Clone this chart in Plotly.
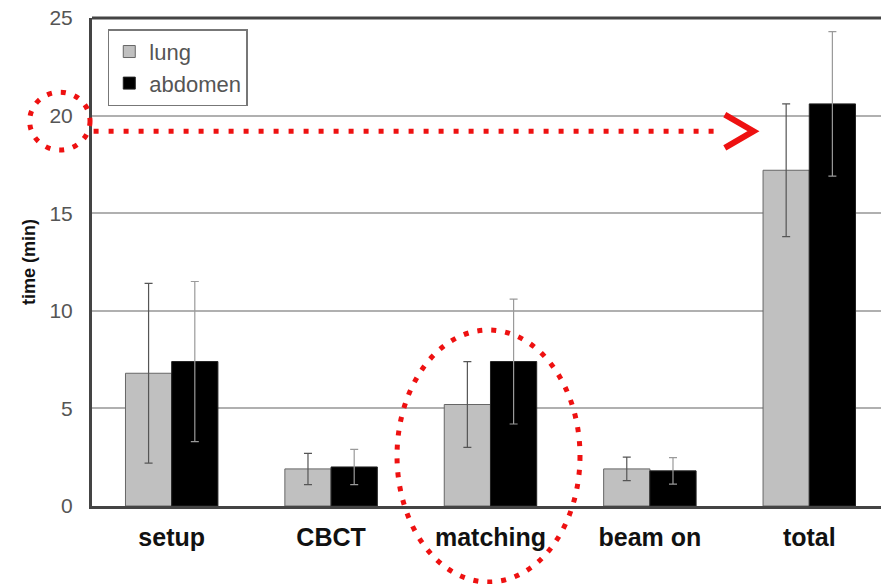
import plotly.graph_objects as go

categories = ["setup", "CBCT", "matching", "beam on", "total"]
lung = [6.8, 1.9, 5.2, 1.9, 17.2]
lung_err = [4.6, 0.8, 2.2, 0.6, 3.4]
abdomen = [7.4, 2.0, 7.4, 1.8, 20.6]
abdomen_err = [4.1, 0.9, 3.2, 0.68, 3.7]
y_ticks = [0, 5, 10, 15, 20, 25]

FONT = "Liberation Sans, Arial, sans-serif"

fig = go.Figure()
fig.add_trace(go.Bar(
    name="lung", x=categories, y=lung,
    marker=dict(color="#c0c0c0", line=dict(color="#666666", width=1)),
    error_y=dict(type="data", array=lung_err, visible=True, color="#555555", thickness=1.2, width=4),
))
fig.add_trace(go.Bar(
    name="abdomen", x=categories, y=abdomen,
    marker=dict(color="#000000", line=dict(color="#222222", width=1)),
    error_y=dict(type="data", array=abdomen_err, visible=True, color="#9a9a9a", thickness=1.2, width=4),
))

RED = "#ee1111"
shapes = [
    dict(type="line", xref="paper", yref="paper", x0=0, x1=1, y0=1, y1=1,
         line=dict(color="#444444", width=3), layer="above"),
    dict(type="line", xref="x", yref="y", x0=-0.49, x1=3.43, y0=19.2, y1=19.2,
         line=dict(color=RED, width=5, dash="5px,10px"), layer="above"),
    dict(type="path", xref="x", yref="y",
         path="M 3.47 20.05 L 3.65 19.2 L 3.47 18.35",
         line=dict(color=RED, width=6), layer="above"),
    dict(type="circle", xref="paper", yref="paper",
         x0=0.3866, x1=0.6185, y0=-0.1557, y1=0.3607,
         line=dict(color=RED, width=5, dash="5px,9px"), layer="above"),
    dict(type="circle", xref="paper", yref="paper",
         x0=-0.079, x1=-0.0025, y0=0.7295, y1=0.848,
         line=dict(color=RED, width=5, dash="5px,9px"), layer="above"),
]

fig.update_layout(
    width=881, height=584,
    margin=dict(l=92, r=0, t=18, b=78, autoexpand=False),
    paper_bgcolor="white", plot_bgcolor="white",
    barmode="group", bargap=0.42, bargroupgap=0,
    font=dict(family=FONT, color="#555555", size=18),
    showlegend=True,
    legend=dict(x=0.02, y=0.977, xanchor="left", yanchor="top",
                bgcolor="white", bordercolor="#777777", borderwidth=1.5,
                font=dict(family=FONT, size=22, color="#555555"),
                itemwidth=30, tracegroupgap=2),
    xaxis=dict(range=[-0.5, 4.45], showgrid=False, showline=True,
               linecolor="#444444", linewidth=3, zeroline=False,
               tickfont=dict(family=FONT, size=25, color="#111111", weight="bold"),
               ticks="", ticklabelstandoff=7),
    yaxis=dict(range=[0, 25], tickvals=y_ticks, showgrid=True,
               gridcolor="#b0b0b0", gridwidth=2, showline=True,
               linecolor="#444444", linewidth=3, zeroline=False,
               tickfont=dict(family=FONT, size=21, color="#555555"),
               ticks="", ticklabelstandoff=12,
               title=dict(text="time (min)", standoff=10,
                          font=dict(family=FONT, size=18, color="#111111", weight="bold"))),
    shapes=shapes,
)

fig.write_html("out.html", config={"displayModeBar": False},
               post_script="document.body.style.margin='0';")
